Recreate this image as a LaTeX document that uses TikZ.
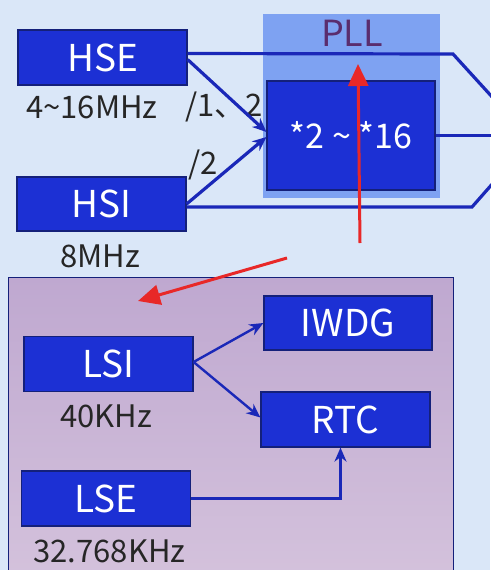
\documentclass[tikz,border=0pt]{standalone}
\usepackage{fontspec}
\setmainfont{Noto Sans CJK SC}
\usetikzlibrary{arrows.meta}

\definecolor{bgblue}{HTML}{DAE7F8}
\definecolor{boxblue}{HTML}{1C30D4}
\definecolor{boxedge}{HTML}{14207A}
\definecolor{pllblue}{HTML}{7EA2F2}
\definecolor{linkblue}{HTML}{1A28B8}
\definecolor{plltext}{HTML}{5A2D6E}
\definecolor{markred}{HTML}{E82828}
\definecolor{lowtop}{HTML}{BFA8D0}
\definecolor{lowbottom}{HTML}{D4C2DC}

\tikzset{
    clkbox/.style={draw=boxedge, line width=1.2pt, fill=boxblue, text=white,
        font=\fontsize{37}{40}\selectfont, minimum width=169pt, minimum height=55pt, inner sep=0pt},
    freq/.style={font=\fontsize{31}{34}\selectfont, text=black!85, inner sep=0pt},
    link/.style={draw=linkblue, line width=3.2pt},
    thinlink/.style={draw=linkblue, line width=2.4pt},
    tip/.style={-{Stealth[length=14pt,width=12pt]}},
    redmark/.style={draw=markred, line width=3pt, -{Triangle[length=22pt,width=20pt]}}
}

\begin{document}
\begin{tikzpicture}[x=1pt, y=-1pt]

        % Background
        \fill[bgblue] (0,0) rectangle (490,570);
        \useasboundingbox (0,0) rectangle (490,570);

        % PLL (Light Area)
        \node[fill=pllblue, minimum width=177pt, minimum height=184pt, inner sep=0pt] (pllarea) at (351.5,106) {};
        \node[font=\fontsize{36}{38}\selectfont, text=plltext, inner sep=0pt] (plltitle) at (352,33.5) {PLL};
        \node[clkbox, minimum width=168pt, minimum height=109pt, font=\fontsize{34}{36}\selectfont] (mult) at (351,135.5) {*2 \textasciitilde{} *16};

        % HSE and HSI (High Speed Sources)
        \node[clkbox] (HSE) at (102.5,57.5) {HSE};
        \node[clkbox, minimum height=54pt] (HSI) at (101.5,204) {HSI};
        \node[freq] (hsefreq) at (92,107) {4\textasciitilde16MHz};
        \node[freq] (hsifreq) at (100,256) {8MHz};
        \node[freq] (hsediv) at (224,107) {/1、2};
        \node[freq] (hsidiv) at (203,165) {/2};

        % Lines running past the PLL
        \coordinate (hseturn) at (453,54);
        \coordinate (hseout) at (494,99);
        \coordinate (hsiturn) at (472,207);
        \coordinate (hsiout) at (494,182);
        \coordinate (multout) at (494,135.5);
        \draw[link] ([yshift=4pt]HSE.east) -- (hseturn) -- (hseout);
        \draw[link] ([yshift=-3pt]HSI.east) -- (hsiturn) -- (hsiout);
        \draw[link] (mult.east) -- (multout);

        % Inputs of the multiplier
        \draw[link, tip] ([yshift=-2pt]HSE.east) -- ([yshift=3.5pt]mult.west);
        \draw[link, tip] (HSI.east) -- ([yshift=-1.5pt]mult.west);

        % Low Speed Area
        \shade[top color=lowtop, bottom color=lowbottom, draw=boxedge, line width=1pt] (8,277) rectangle (453,580);

        % LSI, LSE and their Consumers
        \node[clkbox] (LSI) at (108.5,364) {LSI};
        \node[clkbox, minimum width=168pt, minimum height=54pt] (IWDG) at (348,323) {IWDG};
        \node[clkbox] (RTC) at (345.5,419.5) {RTC};
        \node[clkbox] (LSE) at (106,498.5) {LSE};
        \node[freq] (lsifreq) at (106,416) {40KHz};
        \node[freq] (lsefreq) at (109.5,551) {32.768KHz};

        \draw[thinlink, tip] ([yshift=2pt]LSI.east) -- (IWDG.west);
        \draw[thinlink, tip] ([yshift=2pt]LSI.east) -- ([yshift=2pt]RTC.west);
        \draw[thinlink, tip] (LSE.east) -| ([xshift=-5pt]RTC.south);

        % Red Marks
        \coordinate (marktail) at (360,243);
        \coordinate (markhead) at (358,64);
        \coordinate (marktail2) at (287,258);
        \coordinate (markhead2) at (138,301);
        \draw[redmark] (marktail) -- (markhead);
        \draw[redmark] (marktail2) -- (markhead2);

    \end{tikzpicture}
\end{document}
